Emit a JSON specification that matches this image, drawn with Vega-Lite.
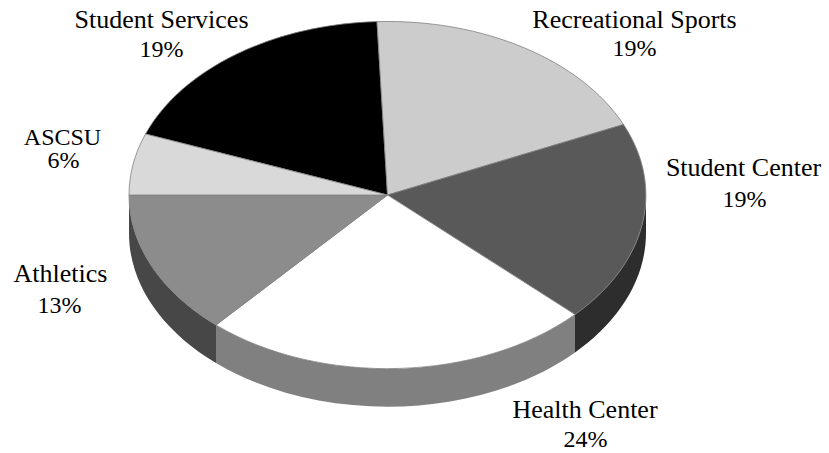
{
  "$schema": "https://vega.github.io/schema/vega-lite/v6.json",
  "width": 829,
  "height": 453,
  "padding": 0,
  "autosize": "none",
  "background": "white",
  "config": {"view": {"stroke": null}},
  "resolve": {"scale": {"shape": "independent", "fill": "independent"}},
  "datasets": {
    "slices": [
      {"dept": "Student Services", "share": 0.19, "name_x": -226, "name_y": -167, "pct_x": -226, "pct_y": -138},
      {"dept": "Recreational Sports", "share": 0.19, "name_x": 247, "name_y": -167, "pct_x": 247, "pct_y": -139},
      {"dept": "Student Center", "share": 0.19, "name_x": 356, "name_y": -19, "pct_x": 357, "pct_y": 12},
      {"dept": "Health Center", "share": 0.24, "name_x": 197.5, "name_y": 223, "pct_x": 198, "pct_y": 252},
      {"dept": "Athletics", "share": 0.13, "name_x": -327, "name_y": 87, "pct_x": -328, "pct_y": 118},
      {"dept": "ASCSU", "share": 0.06, "name_x": -325, "name_y": -50, "pct_x": -324, "pct_y": -27}
    ],
    "walls": [
      {"side": "right"},
      {"side": "front"},
      {"side": "left"}
    ]
  },
  "layer": [
    {
      "data": {"name": "walls"},
      "mark": {"type": "point", "filled": true, "size": 4, "opacity": 1},
      "encoding": {
        "x": {"datum": 0, "type": "quantitative", "scale": {"domain": [-387.5, 441.5]}, "axis": null},
        "y": {"datum": 0, "type": "quantitative", "scale": {"domain": [-195, 258], "reverse": true}, "axis": null},
        "shape": {"field": "side", "type": "nominal", "legend": null, "scale": {
          "domain": ["right", "front", "left"],
          "range": [
            "M258.5 0A258.5 173.5 0 0 1 187.5 119.5L187.5 157.5A258.5 173.5 0 0 0 258.5 38Z",
            "M187.5 119.5A258.5 173.5 0 0 1 -171.5 130L-171.5 168A258.5 173.5 0 0 0 187.5 157.5Z",
            "M-171.5 130A258.5 173.5 0 0 1 -258.5 0L-258.5 38A258.5 173.5 0 0 0 -171.5 168Z"
          ]}},
        "fill": {"field": "side", "type": "nominal", "legend": null, "scale": {
          "domain": ["right", "front", "left"],
          "range": ["#2d2d2d", "#808080", "#474747"]}}
      }
    },
    {
      "data": {"name": "slices"},
      "mark": {"type": "point", "filled": true, "size": 4, "opacity": 1, "stroke": "#808080", "strokeWidth": 0.8},
      "encoding": {
        "x": {"datum": 0, "type": "quantitative", "scale": {"domain": [-387.5, 441.5]}, "axis": null},
        "y": {"datum": 0, "type": "quantitative", "scale": {"domain": [-195, 258], "reverse": true}, "axis": null},
        "shape": {"field": "dept", "type": "nominal", "legend": null, "scale": {
          "domain": ["Student Services", "Recreational Sports", "Student Center", "Health Center", "Athletics", "ASCSU"],
          "range": [
            "M0 0L-242 -61A258.5 173.5 0 0 1 -10.5 -173.4Z",
            "M0 0L-10.5 -173.4A258.5 173.5 0 0 1 236 -70.5Z",
            "M0 0L236 -70.5A258.5 173.5 0 0 1 187.5 119.5Z",
            "M0 0L187.5 119.5A258.5 173.5 0 0 1 -171.5 130Z",
            "M0 0L-171.5 130A258.5 173.5 0 0 1 -258.5 0Z",
            "M0 0L-258.5 0A258.5 173.5 0 0 1 -242 -61Z"
          ]}},
        "fill": {"field": "dept", "type": "nominal", "legend": null, "scale": {
          "domain": ["Student Services", "Recreational Sports", "Student Center", "Health Center", "Athletics", "ASCSU"],
          "range": ["#000000", "#cccccc", "#595959", "#ffffff", "#8c8c8c", "#d9d9d9"]}}
      }
    },
    {
      "data": {"name": "slices"},
      "mark": {"type": "text", "font": "Liberation Serif", "fontSize": 26, "align": "center", "baseline": "alphabetic", "color": "#000000"},
      "encoding": {
        "x": {"field": "name_x", "type": "quantitative", "scale": {"domain": [-387.5, 441.5]}, "axis": null},
        "y": {"field": "name_y", "type": "quantitative", "scale": {"domain": [-195, 258], "reverse": true}, "axis": null},
        "text": {"field": "dept"},
        "size": {"condition": {"test": "datum.dept === 'ASCSU'", "value": 24}, "value": 26}
      }
    },
    {
      "data": {"name": "slices"},
      "mark": {"type": "text", "font": "Liberation Serif", "fontSize": 24, "align": "center", "baseline": "alphabetic", "color": "#000000"},
      "encoding": {
        "x": {"field": "pct_x", "type": "quantitative", "scale": {"domain": [-387.5, 441.5]}, "axis": null},
        "y": {"field": "pct_y", "type": "quantitative", "scale": {"domain": [-195, 258], "reverse": true}, "axis": null},
        "text": {"field": "share", "format": ".0%"}
      }
    }
  ]
}
